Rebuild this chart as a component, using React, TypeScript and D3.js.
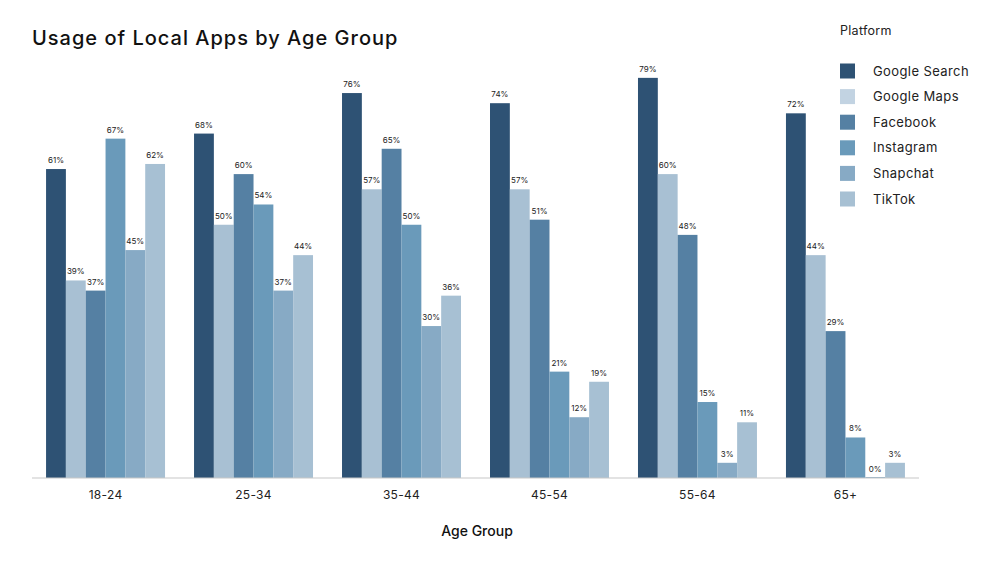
import * as d3 from 'd3'

const AGE_GROUPS = ['18-24', '25-34', '35-44', '45-54', '55-64', '65+']
const PLATFORMS = ['Google Search', 'Google Maps', 'Facebook', 'Instagram', 'Snapchat', 'TikTok']
const GOOGLE_SEARCH = [61, 68, 76, 74, 79, 72]
const GOOGLE_MAPS = [39, 50, 57, 57, 60, 44]
const FACEBOOK = [37, 60, 65, 51, 48, 29]
const INSTAGRAM = [67, 54, 50, 21, 15, 8]
const SNAPCHAT = [45, 37, 30, 12, 3, 0]
const TIKTOK = [62, 44, 36, 19, 11, 3]
const SERIES = [GOOGLE_SEARCH, GOOGLE_MAPS, FACEBOOK, INSTAGRAM, SNAPCHAT, TIKTOK]

const BAR_COLORS = ['#2e5274', '#a8c0d3', '#5580a3', '#6a9aba', '#87aac5', '#a7c0d3']
const SWATCH_COLORS = ['#2e5274', '#c2d3e2', '#5580a3', '#6a9aba', '#87aac5', '#a7c0d3']

const W = 1000, H = 568
const FONT = 'Inter, "Noto Sans", sans-serif'

export default function App() {
  const x0 = d3.scaleBand().domain(AGE_GROUPS).range([32, 919]).paddingInner(0.196).paddingOuter(0.095)
  const x1 = d3.scaleBand().domain(PLATFORMS).range([0, x0.bandwidth()])
  const y = d3.scaleLinear().domain([0, 100]).range([478, -28.5])

  return (
    <svg width={W} height={H} style={{ position: 'absolute', left: 0, top: 0, background: '#fff', fontFamily: FONT }}>
      <text x={32} y={45} fontSize={20} fontWeight={500} letterSpacing={1} fill="#111">Usage of Local Apps by Age Group</text>

      {AGE_GROUPS.map((g, gi) => (
        <g key={g} transform={`translate(${x0(g)},0)`}>
          {PLATFORMS.map((p, pi) => {
            const v = SERIES[pi][gi]
            const bx = x1(p)!
            return (
              <g key={p}>
                <rect x={bx} y={y(v)} width={x1.bandwidth()} height={Math.max(y(0) - y(v), v === 0 ? 1 : 0)} transform={v === 0 ? 'translate(0,-1)' : undefined} fill={BAR_COLORS[pi]} />
                <text x={bx + x1.bandwidth() / 2} y={y(v) - 6} fontSize={8} textAnchor="middle" fill="#222">{v}%</text>
              </g>
            )
          })}
          <text x={x0.bandwidth() / 2} y={499} fontSize={12} textAnchor="middle" letterSpacing={0.3} fill="#222">{g}</text>
        </g>
      ))}

      <line x1={32} x2={919} y1={y(0)} y2={y(0)} stroke="#c8c8c8" strokeWidth={1.2} />

      <text x={477} y={536} fontSize={14} fontWeight={500} textAnchor="middle" fill="#111">Age Group</text>

      <text x={840} y={35} fontSize={12.5} letterSpacing={0.3} fill="#222">Platform</text>
      {PLATFORMS.map((p, i) => (
        <g key={p} transform={`translate(840,${71 + i * 25.6})`}>
          <rect x={0} y={-7.5} width={15} height={15} fill={SWATCH_COLORS[i]} />
          <text x={33} y={4.5} fontSize={13} letterSpacing={0.4} fill="#222">{p}</text>
        </g>
      ))}
    </svg>
  )
}
